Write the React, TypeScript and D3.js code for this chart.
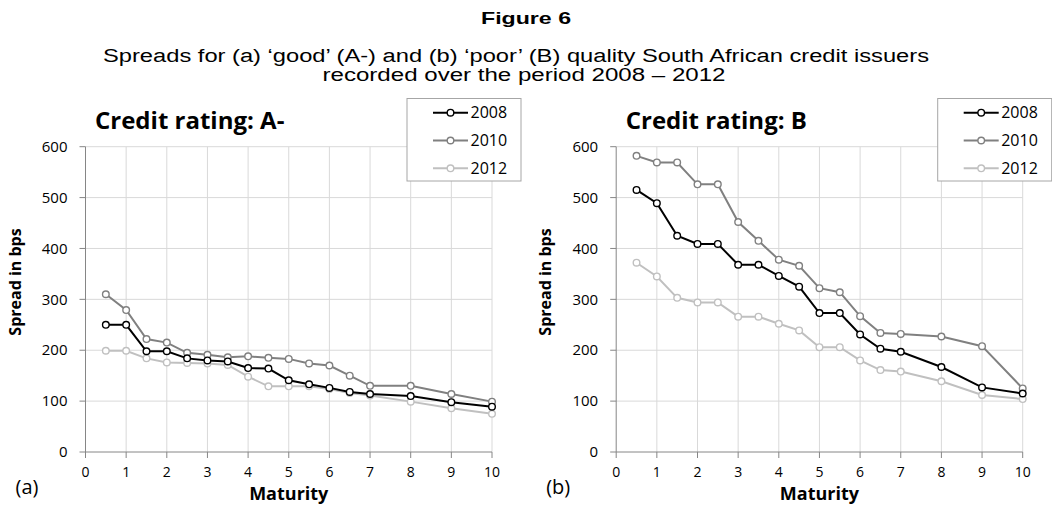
import React from "react";
import * as d3 from "d3";

const maturities = [0.5, 1, 1.5, 2, 2.5, 3, 3.5, 4, 4.5, 5, 5.5, 6, 6.5, 7, 8, 9, 10];
const years = ["2008", "2010", "2012"];
const colors = ["#000000", "#808080", "#c0c0c0"];

const a2008 = [250, 250, 198, 198, 184, 180, 178, 165, 164, 141, 133, 126, 118, 114, 110, 98, 89];
const a2010 = [310, 279, 222, 215, 195, 191, 186, 188, 185, 183, 174, 170, 150, 130, 130, 114, 99];
const a2012 = [199, 199, 184, 176, 175, 174, 171, 148, 129, 129, 129, 124, 116, 111, 99, 86, 75];

const b2008 = [515, 489, 425, 409, 409, 368, 368, 346, 325, 273, 273, 231, 203, 197, 167, 127, 115];
const b2010 = [582, 569, 569, 526, 526, 452, 415, 378, 366, 322, 314, 267, 234, 232, 227, 208, 125];
const b2012 = [372, 345, 303, 294, 294, 266, 266, 252, 239, 206, 206, 180, 161, 158, 139, 112, 104];

const xTicks = [0, 1, 2, 3, 4, 5, 6, 7, 8, 9, 10];
const yTicks = [0, 100, 200, 300, 400, 500, 600];

const FONT = "'Open Sans', sans-serif";
const TFONT = "'Liberation Sans', Arial, sans-serif";

function Panel({ ox, title, tag, series }: { ox: number; title: string; tag: string; series: number[][] }) {
  const x = d3.scaleLinear().domain([0, 10]).range([ox, ox + 406.5]);
  const y = d3.scaleLinear().domain([0, 600]).range([452, 146.7]);
  const line = d3
    .line<number>()
    .x((_, i) => x(maturities[i]))
    .y((d) => y(d));
  const order = [2, 1, 0];
  const lx = ox + 321.5;
  return (
    <g>
      {xTicks.slice(1).map((t) => (
        <line key={"gx" + t} x1={x(t)} x2={x(t)} y1={y(0)} y2={y(600)} stroke="#d9d9d9" strokeWidth={1} />
      ))}
      {yTicks.slice(1).map((t) => (
        <line key={"gy" + t} x1={x(0)} x2={x(10)} y1={y(t)} y2={y(t)} stroke="#d9d9d9" strokeWidth={1} />
      ))}
      <line x1={x(0)} x2={x(0)} y1={y(0)} y2={y(600)} stroke="#868686" strokeWidth={1} />
      <line x1={x(0)} x2={x(10)} y1={y(0)} y2={y(0)} stroke="#868686" strokeWidth={1} />
      {yTicks.map((t) => (
        <g key={"ty" + t}>
          <line x1={x(0) - 6} x2={x(0)} y1={y(t)} y2={y(t)} stroke="#868686" />
          <text x={x(0) - 18} y={y(t)} dy="0.35em" textAnchor="end" fontFamily={FONT} fontSize={15} fill="#000">
            {t}
          </text>
        </g>
      ))}
      {xTicks.map((t) => (
        <g key={"tx" + t}>
          <line x1={x(t)} x2={x(t)} y1={y(0)} y2={y(0) + 6} stroke="#868686" />
          <text x={x(t)} y={477} textAnchor="middle" fontFamily={FONT} fontSize={14} fill="#000">
            {t}
          </text>
        </g>
      ))}
      {order.map((k) => (
        <g key={"s" + k}>
          <path d={line(series[k]) || ""} fill="none" stroke={colors[k]} strokeWidth={2} />
          {series[k].map((v, i) => (
            <circle key={i} cx={x(maturities[i])} cy={y(v)} r={3.3} fill="#fff" stroke={colors[k]} strokeWidth={1.4} />
          ))}
        </g>
      ))}
      <text x={ox + 9.5} y={129} fontFamily={FONT} fontWeight="bold" fontSize={24} fill="#000">
        {title}
      </text>
      <text
        transform={`translate(${ox - 65},282) rotate(-90)`}
        textAnchor="middle"
        fontFamily={FONT}
        fontWeight="bold"
        fontSize={16}
        fill="#000"
      >
        Spread in bps
      </text>
      <text x={x(5)} y={500} textAnchor="middle" fontFamily={FONT} fontWeight="bold" fontSize={18} fill="#000">
        Maturity
      </text>
      <text x={ox - 70} y={494} fontFamily={FONT} fontSize={20} fill="#000">
        {tag}
      </text>
      <rect x={lx} y={98.5} width={114} height={82.5} fill="#fff" stroke="#a6a6a6" strokeWidth={1} />
      {years.map((yr, k) => {
        const cy = 112.7 + k * 27.8;
        return (
          <g key={"lg" + yr}>
            <line x1={lx + 26} x2={lx + 61} y1={cy} y2={cy} stroke={colors[k]} strokeWidth={2} />
            <circle cx={lx + 43.5} cy={cy} r={3.3} fill="#fff" stroke={colors[k]} strokeWidth={1.4} />
            <text x={lx + 63.5} y={cy} dy="0.35em" fontFamily={FONT} fontSize={16} fill="#000">
              {yr}
            </text>
          </g>
        );
      })}
    </g>
  );
}

export default function App() {
  return (
    <svg width={1052} height={506} style={{ position: "absolute", left: 0, top: 0, background: "#fff" }}>
      <rect width={1052} height={506} fill="#fff" />
      <text
        x={526}
        y={24}
        textAnchor="middle"
        fontFamily={TFONT}
        fontWeight="bold"
        fontSize={17}
        textLength={90}
        lengthAdjust="spacingAndGlyphs"
        fill="#000"
      >
        Figure 6
      </text>
      <text
        x={516}
        y={62}
        textAnchor="middle"
        fontFamily={TFONT}
        fontSize={18}
        textLength={826}
        lengthAdjust="spacingAndGlyphs"
        fill="#000"
      >
        Spreads for (a) ‘good’ (A-) and (b) ‘poor’ (B) quality South African credit issuers
      </text>
      <text
        x={524}
        y={81}
        textAnchor="middle"
        fontFamily={TFONT}
        fontSize={18}
        textLength={403}
        lengthAdjust="spacingAndGlyphs"
        fill="#000"
      >
        recorded over the period 2008 – 2012
      </text>
      <Panel ox={85.5} title="Credit rating: A-" tag="(a)" series={[a2008, a2010, a2012]} />
      <Panel ox={616.2} title="Credit rating: B" tag="(b)" series={[b2008, b2010, b2012]} />
    </svg>
  );
}
